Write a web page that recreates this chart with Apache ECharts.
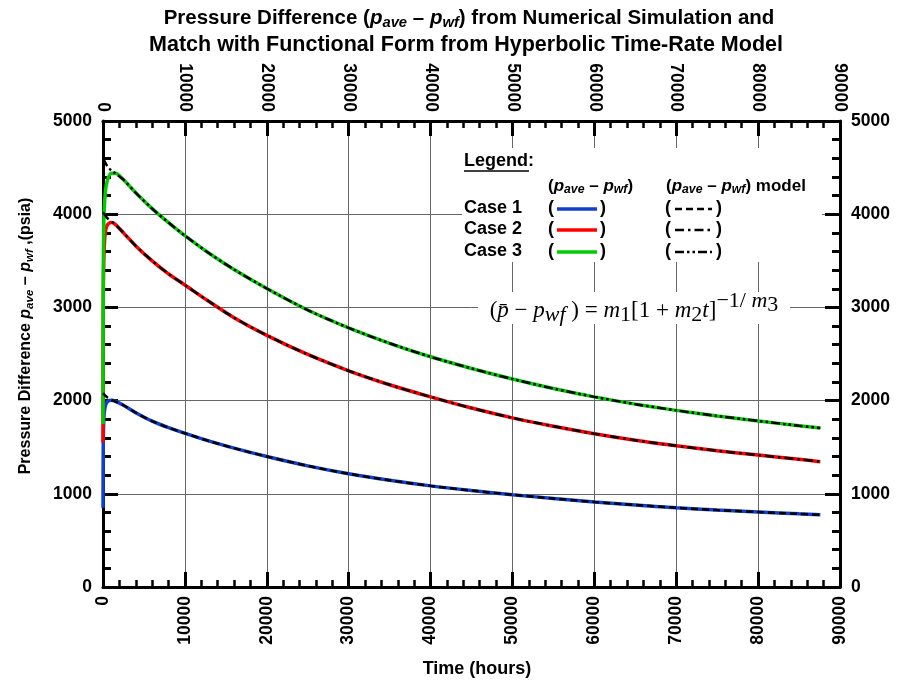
<!DOCTYPE html>
<html>
<head>
<meta charset="utf-8">
<script src="https://cdn.jsdelivr.net/npm/echarts@6/dist/echarts.min.js"></script>
<style>
html,body{margin:0;padding:0;background:#fff;}
#chart{width:898px;height:683px;}
</style>
</head>
<body>
<div id="chart"></div>
<script>
// ---- data ----
const timeHours = [0, 30, 100, 250, 500, 1000, 1500, 2500, 4000, 6000, 8000, 10000, 13000, 16000, 20000, 25000, 30000, 35000, 40000, 45000, 50000, 55000, 60000, 65000, 70000, 75000, 80000, 85000, 87600];
const case1Sim = [850, 1500, 1800, 1930, 1985, 2005, 1995, 1950, 1870, 1780, 1710, 1650, 1565, 1490, 1400, 1300, 1215, 1145, 1085, 1035, 990, 950, 912, 880, 850, 825, 805, 785, 775];
const case2Sim = [1550, 3000, 3500, 3780, 3880, 3910, 3890, 3800, 3660, 3500, 3360, 3240, 3060, 2890, 2700, 2495, 2320, 2170, 2040, 1920, 1815, 1725, 1645, 1575, 1515, 1462, 1416, 1370, 1345];
const case3Sim = [1750, 3300, 3900, 4200, 4350, 4440, 4440, 4370, 4230, 4060, 3910, 3770, 3578, 3407, 3203, 2972, 2780, 2615, 2470, 2345, 2232, 2130, 2040, 1962, 1895, 1835, 1782, 1730, 1706];

const modelTime = [0, 250, 500, 1000, 1500, 2500, 4000, 6000, 8000, 10000, 13000, 16000, 20000, 25000, 30000, 35000, 40000, 45000, 50000, 55000, 60000, 65000, 70000, 75000, 80000, 85000, 87600];
const case1Model = [2080, 2055, 2035, 2010, 1990, 1950, 1870, 1780, 1710, 1650, 1565, 1490, 1400, 1300, 1215, 1145, 1085, 1035, 990, 950, 912, 880, 850, 825, 805, 785, 775];
const case2Model = [4020, 3990, 3960, 3925, 3890, 3800, 3660, 3500, 3360, 3240, 3060, 2890, 2700, 2495, 2320, 2170, 2040, 1920, 1815, 1725, 1645, 1575, 1515, 1462, 1416, 1370, 1345];
const case3Model = [4600, 4560, 4520, 4470, 4440, 4370, 4230, 4060, 3910, 3770, 3578, 3407, 3203, 2972, 2780, 2615, 2470, 2345, 2232, 2130, 2040, 1962, 1895, 1835, 1782, 1730, 1706];

const xTicks = [0, 90000, 10000];
const yTicks = [0, 5000, 1000];

function pairs(xs, ys) { return xs.map((x, i) => [x, ys[i]]); }

const FONT = 'Liberation Sans, Arial, sans-serif';
const SERIF = 'Liberation Serif, Times New Roman, serif';
const labelStyle = { fontFamily: FONT, fontWeight: 'bold', fontSize: 17.5, color: '#000', formatter: v => String(v) };

function xAxisCfg(pos, grid) {
  return {
    type: 'value', position: pos, min: xTicks[0], max: xTicks[1], interval: xTicks[2],
    axisLine: { show: true, onZero: false, lineStyle: { color: '#000', width: 3 } },
    axisTick: { show: true, inside: true, length: 15, lineStyle: { color: '#000', width: 3 } },
    minorTick: { show: true, splitNumber: 5, length: 7, lineStyle: { color: '#000', width: 2.5 } },
    axisLabel: Object.assign({ rotate: 90, margin: 9, showMinLabel: true, showMaxLabel: true }, labelStyle),
    splitLine: { show: grid, lineStyle: { color: '#666', width: 1 } }
  };
}
function yAxisCfg(pos, grid) {
  return {
    type: 'value', position: pos, min: yTicks[0], max: yTicks[1], interval: yTicks[2],
    axisLine: { show: true, onZero: false, lineStyle: { color: '#000', width: 3 } },
    axisTick: { show: true, inside: true, length: 15, lineStyle: { color: '#000', width: 3 } },
    minorTick: { show: true, splitNumber: 5, length: 8, lineStyle: { color: '#000', width: 3 } },
    axisLabel: Object.assign({ margin: 11, showMinLabel: true, showMaxLabel: true }, labelStyle),
    splitLine: { show: grid, lineStyle: { color: '#666', width: 1 } }
  };
}

function simSeries(name, data, color) {
  return { name, type: 'line', data: pairs(timeHours, data), showSymbol: false, smooth: 0.3,
    lineStyle: { color, width: 3.5 }, z: 3, animation: false };
}
function modelSeries(name, data, dash) {
  return { name, type: 'line', data: pairs(modelTime, data), showSymbol: false, smooth: 0.3,
    lineStyle: { color: '#000', width: 2.5, type: dash }, z: 4, animation: false };
}

const subRich = {
  b: { fontFamily: FONT, fontWeight: 'bold', fontSize: 18, color: '#000' },
  bi: { fontFamily: FONT, fontWeight: 'bold', fontStyle: 'italic', fontSize: 18, color: '#000' },
  sb: { fontFamily: FONT, fontWeight: 'bold', fontStyle: 'italic', fontSize: 13, color: '#000', padding: [8, 0, 0, 0] }
};
function richScaled(k) {
  const r = {};
  for (const key in subRich) {
    r[key] = Object.assign({}, subRich[key], { fontSize: subRich[key].fontSize * k });
    if (subRich[key].padding) r[key].padding = [8 * k, 0, 0, 0];
  }
  return r;
}

const dashCase1 = [7, 4];
const dashCase2 = [9, 4, 2.5, 4];
const dashCase3 = [9, 3, 2.5, 3, 2.5, 3];

const graphic = [
  // title
  { type: 'text', x: 469, y: 18, style: { text: '{b|Pressure Difference (}{bi|p}{sb|ave}{b| – }{bi|p}{sb|wf}{b|) from Numerical Simulation and}', rich: richScaled(20.5 / 18), align: 'center', verticalAlign: 'middle' } },
  { type: 'text', x: 466, y: 45, style: { text: 'Match with Functional Form from Hyperbolic Time-Rate Model', font: 'bold 21.5px ' + FONT, fill: '#000', align: 'center', verticalAlign: 'middle' } },
  // y axis name
  { type: 'text', x: 26, y: 336, rotation: Math.PI / 2, style: { text: '{b|Pressure Difference }{bi|p}{sb|ave}{b| – }{bi|p}{sb|wf}{b| ,(psia)}', rich: richScaled(16 / 18), align: 'center', verticalAlign: 'middle' } },
  // x axis name
  { type: 'text', x: 477, y: 669, style: { text: 'Time (hours)', font: 'bold 18px ' + FONT, fill: '#000', align: 'center', verticalAlign: 'middle' } },
  // legend box
  { type: 'rect', shape: { x: 462, y: 148, width: 360, height: 114 }, style: { fill: '#fff' }, z: 10 },
  { type: 'text', x: 464, y: 161, z: 11, style: { text: 'Legend:', font: 'bold 18px ' + FONT, fill: '#000', verticalAlign: 'middle' } },
  { type: 'line', z: 11, shape: { x1: 464, y1: 171, x2: 529, y2: 171 }, style: { stroke: '#000', lineWidth: 1.5 } },
  { type: 'text', x: 548, y: 186, z: 11, style: { text: '{b|(}{bi|p}{sb|ave}{b| – }{bi|p}{sb|wf}{b|)}', rich: richScaled(17 / 18), verticalAlign: 'middle' } },
  { type: 'text', x: 666, y: 186, z: 11, style: { text: '{b|(}{bi|p}{sb|ave}{b| – }{bi|p}{sb|wf}{b|) model}', rich: richScaled(17 / 18), verticalAlign: 'middle' } },
  // formula
  { type: 'rect', shape: { x: 478, y: 292, width: 312, height: 32 }, style: { fill: '#fff' }, z: 10 },
  { type: 'text', x: 634, y: 311, z: 11, style: {
      text: '{n|(}{i|p̄}{n| − }{i|p}{si|wf}{n| ) = }{i|m}{sn|1}{n|[1 + }{i|m}{sn|2}{i|t}{n|]}{up|−1/ }{upi|m}{upn|3}',
      align: 'center', verticalAlign: 'middle',
      rich: {
        n: { fontFamily: SERIF, fontSize: 23, color: '#000' },
        i: { fontFamily: SERIF, fontStyle: 'italic', fontSize: 23, color: '#000' },
        si: { fontFamily: SERIF, fontStyle: 'italic', fontSize: 22, color: '#000', padding: [9, 0, 0, 0] },
        sn: { fontFamily: SERIF, fontSize: 22, color: '#000', padding: [9, 0, 0, 0] },
        up: { fontFamily: SERIF, fontSize: 22, color: '#000', padding: [0, 0, 20, 0] },
        upi: { fontFamily: SERIF, fontStyle: 'italic', fontSize: 22, color: '#000', padding: [0, 0, 20, 0] },
        upn: { fontFamily: SERIF, fontSize: 22, color: '#000', padding: [0, 0, 11, 0] }
      } } }
];
const caseNames = ['Case 1', 'Case 2', 'Case 3'];
const caseColors = ['#1040d0', '#ff0000', '#00cc00'];
const caseDashes = [dashCase1, dashCase2, dashCase3];
const rowY = [208, 229, 251];
for (let i = 0; i < 3; i++) {
  const y = rowY[i];
  graphic.push(
    { type: 'text', x: 464, y, z: 11, style: { text: caseNames[i], font: 'bold 18px ' + FONT, fill: '#000', verticalAlign: 'middle' } },
    { type: 'text', x: 548, y, z: 11, style: { text: '(', font: 'bold 18px ' + FONT, fill: '#000', verticalAlign: 'middle' } },
    { type: 'line', z: 11, shape: { x1: 557, y1: y + 1, x2: 597, y2: y + 1 }, style: { stroke: caseColors[i], lineWidth: 3.5 } },
    { type: 'text', x: 600, y, z: 11, style: { text: ')', font: 'bold 18px ' + FONT, fill: '#000', verticalAlign: 'middle' } },
    { type: 'text', x: 665, y, z: 11, style: { text: '(', font: 'bold 18px ' + FONT, fill: '#000', verticalAlign: 'middle' } },
    { type: 'line', z: 11, shape: { x1: 675, y1: y + 1, x2: 712, y2: y + 1 }, style: { stroke: '#000', lineWidth: 2.5, lineDash: caseDashes[i] } },
    { type: 'text', x: 716, y, z: 11, style: { text: ')', font: 'bold 18px ' + FONT, fill: '#000', verticalAlign: 'middle' } }
  );
}

const chart = echarts.init(document.getElementById('chart'), null, { renderer: 'canvas' });
chart.setOption({
  animation: false,
  backgroundColor: '#fff',
  grid: { left: 103, right: 58, top: 121, bottom: 96, containLabel: false },
  xAxis: [xAxisCfg('bottom', true), xAxisCfg('top', false)],
  yAxis: [yAxisCfg('left', true), yAxisCfg('right', false)],
  series: [
    simSeries('Case 1', case1Sim, caseColors[0]),
    simSeries('Case 2', case2Sim, caseColors[1]),
    simSeries('Case 3', case3Sim, caseColors[2]),
    modelSeries('Case 1 model', case1Model, dashCase1),
    modelSeries('Case 2 model', case2Model, dashCase2),
    modelSeries('Case 3 model', case3Model, dashCase3)
  ],
  graphic
});
</script>
</body>
</html>
